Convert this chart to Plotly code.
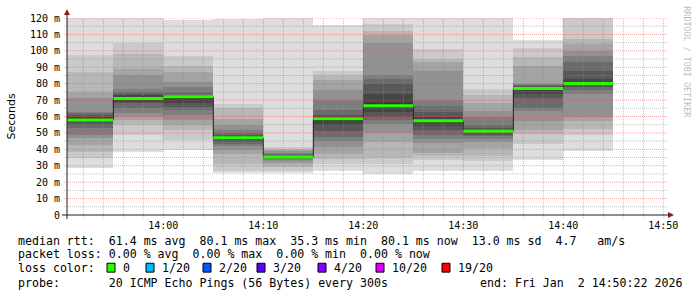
import plotly.graph_objects as go
import pandas as pd

# ---------------- data ----------------
end_times = ["2026-01-02 13:55", "2026-01-02 14:00", "2026-01-02 14:05", "2026-01-02 14:10",
             "2026-01-02 14:15", "2026-01-02 14:20", "2026-01-02 14:25", "2026-01-02 14:30",
             "2026-01-02 14:35", "2026-01-02 14:40", "2026-01-02 14:45"]
median_ms = [57.8, 71.0, 72.0, 47.0, 35.3, 58.6, 66.6, 57.4, 51.0, 77.0, 80.1]

# 20 sorted ping RTTs (ms) per 5-minute step
p1355 = [28.4, 35, 38.6, 42.6, 47, 49, 53, 55, 56.5, 57.5, 59, 60, 61, 62, 63, 71, 75, 87, 97.4, 130]
p1400 = [38.6, 49, 55, 58, 60, 62, 65, 68, 69, 70.5, 72, 73, 74, 75, 77, 85, 89, 98, 105, 128]
p1405 = [39.5, 45.5, 52, 55, 58, 61, 64, 66, 68.5, 70.5, 72, 72.5, 73, 75, 78, 81, 87, 91, 97, 119]
p1410 = [25.4, 27, 31, 37, 39.4, 42, 43.5, 44.5, 45.5, 46.5, 47.5, 48, 49, 50, 52, 55, 58.6, 65, 67.4, 119.5]
p1415 = [25.5, 27, 29, 31, 32.5, 33.3, 34, 34.5, 34.8, 35.1, 35.5, 36, 36.5, 37, 38, 39, 39.5, 40.2, 41.4, 125]
p1420 = [26.6, 31, 34, 37, 41.4, 45, 47.4, 51, 55, 57.5, 59.5, 60.5, 61, 64, 70, 76, 82, 85, 88, 116]
p1425 = [25, 31, 34.6, 44.6, 50, 55.4, 58, 60, 63, 65.5, 68, 74, 80, 82.6, 85.4, 105, 109.5, 112, 116.6, 122]
p1430 = [26.6, 33.4, 36, 38, 44, 46, 49, 52, 54, 56.5, 58, 60, 63, 66.6, 70, 88, 93, 95, 101.4, 125]
p1435 = [26.6, 33, 36, 41, 44.6, 46.6, 48, 49, 50, 50.7, 51.3, 52, 53, 55, 60, 63.4, 68, 73, 77, 122]
p1440 = [33.4, 43, 49.4, 52, 57.4, 63.4, 65.4, 71.4, 74, 76, 77.5, 78, 78.5, 79, 79.5, 80, 91, 96, 102, 106.6]
p1445 = [39, 49, 52.4, 57, 60, 74, 76, 78, 79, 79.5, 81, 83, 88, 93, 97, 100, 104, 107.4, 125, 135]
pings = [p1355, p1400, p1405, p1410, p1415, p1420, p1425, p1430, p1435, p1440, p1445]

y_ticks = [0, 10, 20, 30, 40, 50, 60, 70, 80, 90, 100, 110, 120]
y_tick_text = ["0", "10 m", "20 m", "30 m", "40 m", "50 m", "60 m", "70 m", "80 m", "90 m",
               "100 m", "110 m", "120 m"]
x_major = ["2026-01-02 14:00", "2026-01-02 14:10", "2026-01-02 14:20", "2026-01-02 14:30",
           "2026-01-02 14:40", "2026-01-02 14:50"]
x_range = ["2026-01-02 13:50:22", "2026-01-02 14:50:22"]

legend_rtt = "median rtt:  61.4 ms avg  80.1 ms max  35.3 ms min  80.1 ms now  13.0 ms sd  4.7   am/s"
legend_loss = "packet loss: 0.00 % avg  0.00 % max  0.00 % min  0.00 % now"
loss_labels = ["0", "1/20", "2/20", "3/20", "4/20", "10/20", "19/20"]
loss_colors = ["#26ff00", "#00b8ff", "#0059ff", "#5e00ff", "#7e00ff", "#dd00ff", "#ff0000"]
probe_text = "probe:       20 ICMP Echo Pings (56 Bytes) every 300s"
end_text = "end: Fri Jan  2 14:50:22 2026"

# ---------------- layout helpers ----------------
W, H = 697, 297
PL, PR, PT, PB = 67, 667, 15, 215
def px(x):
    return (x - PL) / (PR - PL)
def py(y):
    return (PB - y) / (PB - PT)
def nb(s):
    return s.replace(" ", "\u00a0")

MONO = "DejaVu Sans Mono"
STEP_MS = 300000

ends = pd.to_datetime(end_times)
starts = ends - pd.Timedelta(seconds=300)
centers = ends - pd.Timedelta(seconds=150)

fig = go.Figure()

# smoke: band i spans ping[i] .. ping[19-i]
half = 10
for i in range(half):
    c = int(190 / half * (half - (i + 1))) + 50
    col = "#%02x%02x%02x" % (c, c, c)
    base = [p[i] for p in pings]
    height = [p[19 - i] - p[i] for p in pings]
    fig.add_trace(go.Bar(x=centers, y=height, base=base, width=STEP_MS,
                         marker=dict(color=col, line=dict(width=0)),
                         hoverinfo="skip", showlegend=False))

# median step line (dark)
step_x = list(starts) + [ends[-1]]
step_y = median_ms + [median_ms[-1]]
fig.add_trace(go.Scatter(x=step_x, y=step_y, mode="lines", line=dict(color="#202020", width=1, shape="hv"),
                         hoverinfo="skip", showlegend=False))

# median coloured by loss (all 0 loss -> green)
gx, gy = [], []
for s, e, m in zip(starts, ends, median_ms):
    gx += [s, e, None]
    gy += [m, m, None]
fig.add_trace(go.Scatter(x=gx, y=gy, mode="lines", line=dict(color=loss_colors[0], width=3),
                         hoverinfo="skip", showlegend=False))

shapes = []
GRID = "rgba(143,143,143,0.55)"
MGRID = "rgba(222,79,79,0.50)"
dash = "1px,1px"
# horizontal grid (extends slightly left of the axis as a tick)
for v in range(5, 121, 5):
    colr = MGRID if v % 10 == 0 else GRID
    shapes.append(dict(type="line", xref="paper", yref="y", x0=px(64), x1=px(668), y0=v, y1=v,
                       line=dict(color=colr, width=1, dash=dash), layer="above"))
# vertical grid (extends slightly below the axis as a tick)
minor_times = pd.date_range("2026-01-02 13:52", "2026-01-02 14:50", freq="2min")
major_times = pd.to_datetime(x_major)
for t in minor_times:
    if t in major_times:
        continue
    shapes.append(dict(type="line", xref="x", yref="paper", x0=t, x1=t, y0=py(218), y1=1,
                       line=dict(color=GRID, width=1, dash=dash), layer="above"))
for t in major_times:
    shapes.append(dict(type="line", xref="x", yref="paper", x0=t, x1=t, y0=py(218), y1=1,
                       line=dict(color=MGRID, width=1, dash=dash), layer="above"))

AXIS = "#1f1f1f"
ARROW = "#801f1f"
# axis lines
shapes.append(dict(type="line", xref="paper", yref="paper", x0=px(62), x1=px(668), y0=0, y1=0,
                   line=dict(color=AXIS, width=1), layer="above"))
shapes.append(dict(type="line", xref="paper", yref="paper", x0=0, x1=0, y0=py(219), y1=py(11),
                   line=dict(color=AXIS, width=1), layer="above"))
# arrows
def tri(pts):
    return "M " + " L ".join("%f,%f" % (px(a), py(b)) for a, b in pts) + " Z"
shapes.append(dict(type="path", xref="paper", yref="paper", path=tri([(67, 6), (64, 12), (70, 12)]),
                   fillcolor=ARROW, line=dict(color=ARROW, width=0), layer="above"))
shapes.append(dict(type="path", xref="paper", yref="paper", path=tri([(674, 215), (668, 212), (668, 218)]),
                   fillcolor=ARROW, line=dict(color=ARROW, width=0), layer="above"))

annotations = []
LEG_FONT = dict(family=MONO, size=11.6, color="#000000")
line_y = [241, 255, 269, 284]
annotations.append(dict(text=nb(legend_rtt), x=px(16), y=py(line_y[0]), xref="paper", yref="paper",
                        xanchor="left", yanchor="middle", showarrow=False, font=LEG_FONT))
annotations.append(dict(text=nb(legend_loss), x=px(16), y=py(line_y[1]), xref="paper", yref="paper",
                        xanchor="left", yanchor="middle", showarrow=False, font=LEG_FONT))
annotations.append(dict(text=nb("loss color:"), x=px(16), y=py(line_y[2]), xref="paper", yref="paper",
                        xanchor="left", yanchor="middle", showarrow=False, font=LEG_FONT))
box_x = [107, 146, 203, 257, 318, 376, 442]
for bx, lab, colr in zip(box_x, loss_labels, loss_colors):
    shapes.append(dict(type="rect", xref="paper", yref="paper", x0=px(bx), x1=px(bx + 8),
                       y0=py(line_y[2] + 4), y1=py(line_y[2] - 5), fillcolor=colr,
                       line=dict(color="#000000", width=1), layer="above"))
    annotations.append(dict(text=nb(lab), x=px(bx + 14), y=py(line_y[2]), xref="paper", yref="paper",
                            xanchor="left", yanchor="middle", showarrow=False, font=LEG_FONT))
annotations.append(dict(text=nb(probe_text), x=px(16), y=py(line_y[3]), xref="paper", yref="paper",
                        xanchor="left", yanchor="middle", showarrow=False, font=LEG_FONT))
annotations.append(dict(text=nb(end_text), x=px(478), y=py(line_y[3]), xref="paper", yref="paper",
                        xanchor="left", yanchor="middle", showarrow=False, font=LEG_FONT))
# y axis title
annotations.append(dict(text="Seconds", x=px(11), y=py(115), xref="paper", yref="paper", textangle=-90,
                        xanchor="center", yanchor="middle", showarrow=False,
                        font=dict(family="DejaVu Sans", size=11, color="#000000")))
# watermark
annotations.append(dict(text=nb("RRDTOOL / TOBI OETIKER"), x=px(687), y=py(60), xref="paper", yref="paper",
                        textangle=90, xanchor="center", yanchor="middle", showarrow=False,
                        font=dict(family=MONO, size=8.4, color="#bdbdbd")))

fig.update_layout(
    width=W, height=H,
    margin=dict(l=PL, r=W - PR, t=PT, b=H - PB),
    paper_bgcolor="white", plot_bgcolor="white",
    barmode="overlay", bargap=0,
    showlegend=False,
    shapes=shapes, annotations=annotations,
    xaxis=dict(type="date", range=x_range, showgrid=False, zeroline=False, showline=False,
               tickvals=major_times, tickformat="%H:%M", ticks="", ticklabelstandoff=3,
               tickfont=dict(family=MONO, size=10, color="#000000")),
    yaxis=dict(range=[0, 120], showgrid=False, zeroline=False, showline=False,
               tickvals=y_ticks, ticktext=y_tick_text, ticks="", ticklabelstandoff=6,
               tickfont=dict(family=MONO, size=10, color="#000000")),
)

fig.write_html("out.html")
